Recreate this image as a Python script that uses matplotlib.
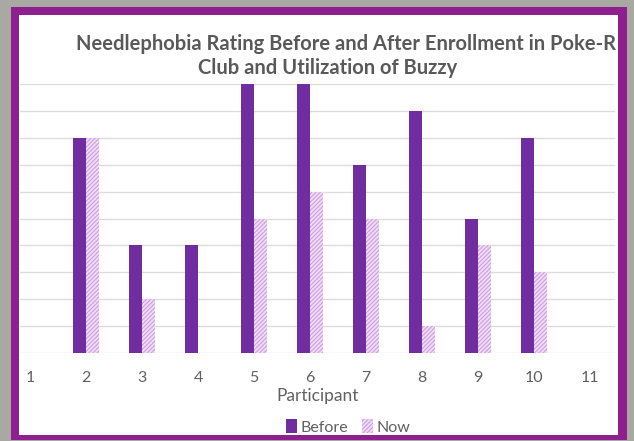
import numpy as np
import matplotlib.pyplot as plt
from matplotlib.patches import Rectangle

# data
participants = [1, 2, 3, 4, 5, 6, 7, 8, 9, 10, 11]
before = [0, 8, 4, 4, 10, 10, 7, 9, 5, 8, 0]
now = [0, 8, 2, 0, 5, 6, 5, 1, 4, 3, 0]

W, H = 634, 441
plt.rcParams['font.family'] = ['Lato', 'DejaVu Sans']
plt.rcParams['hatch.linewidth'] = 0.8

fig = plt.figure(figsize=(W / 100, H / 100), dpi=100, facecolor='#a9a9a3')

def px(x, y, w, h):
    # pixel box (top-left origin) -> figure fraction
    return (x / W, 1 - (y + h) / H, w / W, h / H)

# purple frame and white chart area
x0, y0, w0, h0 = px(11, 7, 616, 433)
fig.patches.append(Rectangle((x0, y0), w0, h0, transform=fig.transFigure,
                             facecolor='#8d1f8f', edgecolor='none', zorder=-2))
x1, y1, w1, h1 = px(19, 15, 599, 420)
fig.patches.append(Rectangle((x1, y1), w1, h1, transform=fig.transFigure,
                             facecolor='white', edgecolor='none', zorder=-1))

ax = fig.add_axes(px(20, 84, 595, 269))
ax.set_zorder(1)
ax.set_facecolor('none')

x = np.array(participants)
bw = 0.235
ax.bar(x - bw / 2, before, width=bw, color='#6f2da0', label='Before', zorder=3)
ax.bar(x + bw / 2, now, width=bw, facecolor='#efdcf5', edgecolor='#d09ee2',
       hatch='////////', linewidth=0, label='Now', zorder=3)

ax.set_xlim(0.82, 11.45)
ax.set_ylim(0, 10)
ax.set_yticks(range(0, 11))
ax.yaxis.grid(True, color='#dcdcdc', linewidth=1)
ax.set_axisbelow(True)
ax.tick_params(axis='y', left=False, labelleft=False)
ax.tick_params(axis='x', length=0, pad=13, labelsize=11.5, labelcolor='#606060')
ax.set_xticks(participants)
for s in ax.spines.values():
    s.set_visible(False)

ax.set_xlabel('Participant', fontsize=12.5, color='#606060', labelpad=2)

fig.text(346 / W, 1 - 44 / H, 'Needlephobia Rating Before and After Enrollment in Poke-R',
         ha='center', va='center', fontsize=14.5, fontweight='bold', color='#595959')
fig.text(328 / W, 1 - 68 / H, 'Club and Utilization of Buzzy',
         ha='center', va='center', fontsize=14.5, fontweight='bold', color='#595959')

ax.legend(loc='center', bbox_to_anchor=(348 / W, 1 - 427 / H), bbox_transform=fig.transFigure,
          ncol=2, frameon=False, fontsize=11.5, labelcolor='#606060', borderpad=0,
          handlelength=0.7, handleheight=0.9, handletextpad=0.2, columnspacing=0.9)

fig.savefig('out.png', dpi=100, facecolor=fig.get_facecolor())
